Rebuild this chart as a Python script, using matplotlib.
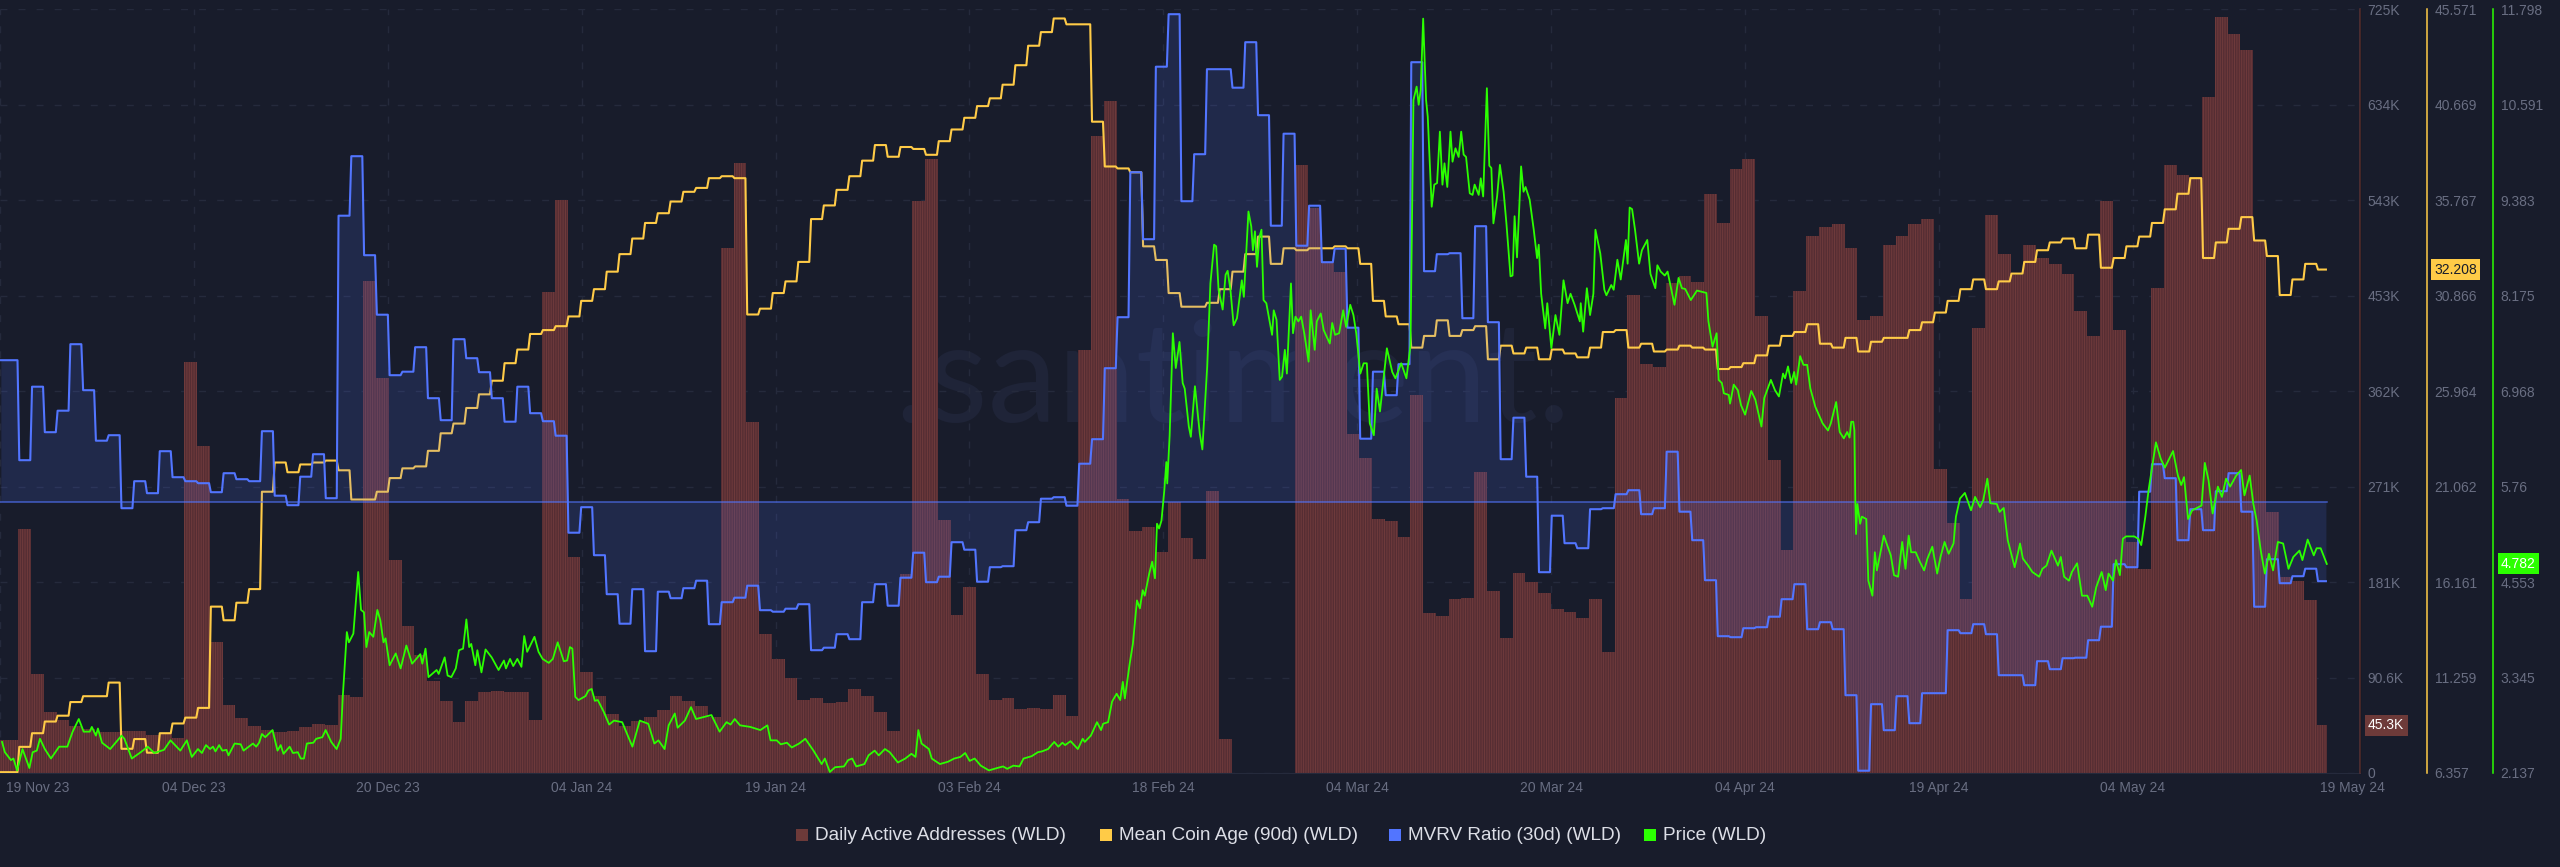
import numpy as np
import matplotlib
matplotlib.use("Agg")
import matplotlib.pyplot as plt
from matplotlib.transforms import ScaledTranslation

# daily active addresses, thousands
daa = [31.6,232,94,57.6,50.6,45,42,39,38.6,40,40,36,37,33,390,310,124,65,52.5,44.6,41,39,39.5,43.6,46.8,46,74,72,467,375,
       202,140,112,87,68,48,68,76.5,78,77,77,50,457,544,205,96,73,56,45,49,53,60,73,68,63.6,53,498,579,333,132,
       108,90,69,71.5,66.7,67,80,73,57.6,40,188.5,543,583,240,150,177,94,69,71.5,61,61.7,61,74,54,402,605,638,260,230,234,
       210,257,223,203,268,32.6,0,0,0,0,0,577,536,484,476,322,299,241,239,224,359,152,149,165,166,286,173,128,190,181,
       171,156,153,147,165,114.5,356,453.6,388,385,465,472,466,550,522,573,583,434,297,212,458,510,518,521,498,430,434,501,510,521,
       526,289,237,165,422,529.5,493,473,501,489,483,474,439,415,543,421,219,194,460,577.5,568,566,642,718,702,686,506,248,186,182,164,45.3]

# mean coin age (90d)
coin_age = [6.4,7.7,8.4,9.0,9.3,10.0,10.3,10.3,11.0,7.6,8.1,7.4,8.4,8.9,9.2,9.7,14.9,14.2,15.1,15.8,20.8,22.3,21.8,22.2,22.3,22.4,21.9,20.4,20.4,20.8,
            21.5,22.0,22.1,22.9,23.8,24.3,25.1,25.8,26.5,27.4,28.1,28.9,29.1,29.3,29.8,30.6,31.2,32.1,33.0,33.8,34.6,35.1,35.7,36.2,36.4,36.9,37.0,36.9,29.9,30.2,
            31.0,31.6,32.6,34.8,35.5,36.3,37.0,37.8,38.6,38.0,38.5,38.4,38.1,38.8,39.4,40.0,40.6,41.0,41.7,42.7,43.7,44.4,45.1,44.8,44.8,39.8,37.5,37.4,37.2,33.4,
            32.7,31.0,30.3,30.3,30.5,31.2,32.1,33.0,33.9,32.5,33.3,33.2,33.3,33.3,33.4,33.3,32.5,30.6,29.8,29.4,28.2,28.8,29.6,28.8,29.1,29.3,27.6,28.3,27.9,28.2,
            27.6,28.1,27.9,27.7,28.2,29.0,29.1,28.2,28.4,28.0,28.1,28.3,28.2,28.1,27.1,27.2,27.4,27.8,28.3,28.8,29.0,29.4,28.4,28.2,28.7,28.0,28.5,28.7,28.7,29.1,
            29.5,30.0,30.6,31.2,31.7,31.2,31.6,32.0,32.6,33.2,33.6,33.8,33.3,34.0,32.3,32.8,33.4,33.9,34.6,35.3,36.1,36.9,32.8,33.6,34.3,34.9,33.7,32.9,30.9,31.7,32.5,32.208]

# mvrv ratio (30d), percent
mvrv = [28.3,8.3,23,13.9,18.2,31.5,22.3,12.2,13.3,-1.3,4.1,1.7,10.1,4.9,4.1,3.7,1.9,5.7,4.5,4.1,14.1,1.2,-0.7,5,9.5,0.7,57.2,69.1,49.3,37.4,
        25.3,26,30.9,20.7,16.3,32.5,28.7,25.9,20.7,16,23,17.7,16.1,13.2,-6.2,-1.1,-10.7,-18.5,-24.4,-17.5,-29.9,-18,-19.3,-17.3,-15.8,-24.5,-20.1,-19.2,-16.8,-21.7,
        -22,-21.4,-20.5,-29.7,-29.2,-26.5,-27.5,-20.1,-16.5,-20.8,-15.2,-10.2,-16.1,-15,-8.1,-9.6,-16,-13.1,-12.9,-5.7,-4.1,0.6,0.9,-0.8,7.6,12.5,26.7,36.9,65.9,52.5,
        87,97.5,60.1,69.5,86.5,86.5,82.8,91.9,77.3,55.2,73.6,51.2,59.2,47.9,50.6,34.8,12.6,26,21.3,27.5,87.9,46.1,49.5,49.7,36.7,55.1,35.9,8.5,16.8,5,
        -14.1,-2.8,-8.3,-9.3,-1.5,-1.3,1.5,2.3,-2.5,-1.3,10,-2,-7.7,-15.7,-26.9,-27.1,-25.3,-25.1,-23,-19.5,-16.5,-25.5,-24.1,-25.5,-38.7,-53.8,-40.5,-45.7,-38.9,-44.3,
        -38.3,-38.3,-25.7,-26.3,-24.5,-26.5,-34.7,-34.7,-36.7,-31.9,-33.5,-31.3,-31.2,-27.7,-25,-12.5,-13.1,2,7.5,4.7,-7.7,-1.5,-5.7,2.1,5.7,-2,-21,-11.5,-16.3,-14.9,-13.4,-15.9]

# price, (days since 19 Nov, usd)
price_points = [
    (0.16,2.53),(0.38,2.40),(0.86,2.30),(1.05,2.32),(1.34,2.17),(1.76,2.44),(2.30,2.20),(2.56,2.40),(2.88,2.42),(3.13,2.57),
    (3.51,2.44),(3.99,2.32),(4.63,2.47),(5.27,2.47),(5.69,2.66),(6.17,2.82),(6.55,2.66),(7.03,2.66),(7.19,2.72),(7.51,2.61),
    (7.67,2.70),(7.99,2.52),(8.63,2.44),(9.52,2.61),(9.74,2.57),(10.32,2.32),(11.02,2.40),(11.57,2.47),(12.08,2.39),(12.84,2.43),
    (13.35,2.55),(14.12,2.42),(14.63,2.55),(15.02,2.34),(15.50,2.44),(15.81,2.39),(16.13,2.49),(16.45,2.44),(16.68,2.47),(16.87,2.41),
    (17.16,2.49),(17.41,2.42),(17.73,2.43),(17.89,2.36),(18.37,2.51),(18.85,2.50),(19.07,2.42),(19.81,2.51),(20.06,2.47),(20.29,2.52),
    (20.51,2.63),(20.77,2.59),(21.34,2.68),(21.73,2.42),(21.98,2.49),(22.20,2.38),(22.68,2.47),(22.94,2.39),(23.32,2.40),(23.55,2.32),
    (23.80,2.32),(24.03,2.51),(24.54,2.52),(24.76,2.57),(25.24,2.59),(25.50,2.68),(25.94,2.53),(26.36,2.44),(26.68,2.57),(26.84,3.10),
    (27.16,3.92),(27.32,3.79),(27.67,3.90),(28.05,4.68),(28.27,4.20),(28.50,4.17),(28.69,3.73),(28.91,3.92),(29.23,3.86),(29.55,4.20),
    (29.78,4.07),(30.03,3.79),(30.19,3.84),(30.51,3.50),(30.99,3.65),(31.37,3.46),(31.82,3.75),(32.27,3.52),(32.91,3.64),(33.07,3.52),
    (33.32,3.71),(33.55,3.35),(34.19,3.44),(34.35,3.39),(34.82,3.60),(35.05,3.37),(35.34,3.35),(35.69,3.46),(35.94,3.69),(36.26,3.71),
    (36.52,4.08),(36.74,3.73),(36.90,3.77),(37.22,3.50),(37.38,3.69),(37.70,3.41),(38.02,3.70),(38.50,3.60),(39.04,3.44),(39.46,3.56),
    (39.62,3.46),(39.94,3.58),(40.19,3.49),(40.51,3.58),(40.83,3.48),(41.05,3.87),(41.28,3.67),(41.85,3.86),(42.17,3.67),(42.49,3.58),
    (42.97,3.53),(43.29,3.58),(43.67,3.79),(44.15,3.55),(44.41,3.56),(44.63,3.73),(44.82,3.71),(45.05,3.10),(45.30,3.06),(45.85,3.11),
    (46.07,3.18),(46.33,3.20),(46.58,3.05),(46.81,3.06),(47.28,2.91),(47.70,2.75),(48.08,2.80),(48.72,2.78),(49.52,2.47),(50.10,2.80),
    (50.44,2.78),(50.76,2.76),(51.24,2.51),(51.56,2.55),(52.04,2.44),(52.36,2.74),(52.84,2.89),(53.06,2.71),(53.63,2.80),(54.11,2.97),
    (54.50,2.82),(55.71,2.87),(56.35,2.66),(56.89,2.78),(57.21,2.75),(57.53,2.82),(57.95,2.74),(58.75,2.72),(59.54,2.68),(60.09,2.74),
    (60.34,2.55),(60.82,2.55),(61.14,2.50),(61.62,2.52),(62.00,2.46),(62.58,2.51),(63.06,2.57),(63.70,2.42),(64.34,2.25),(64.59,2.32),
    (64.98,2.15),(65.39,2.21),(66.09,2.22),(66.41,2.30),(66.73,2.32),(67.05,2.22),(67.69,2.25),(68.01,2.36),(68.49,2.42),(68.81,2.36),
    (69.29,2.44),(69.67,2.40),(70.31,2.27),(70.89,2.32),(71.37,2.38),(71.69,2.34),(71.91,2.68),(72.16,2.51),(72.74,2.44),(72.96,2.32),
    (73.60,2.25),(74.24,2.28),(74.72,2.32),(75.20,2.34),(75.58,2.39),(75.93,2.29),(76.32,2.32),(76.80,2.23),(77.44,2.17),(78.08,2.20),
    (78.55,2.22),(78.87,2.19),(79.35,2.23),(79.83,2.22),(80.15,2.32),(80.79,2.35),(81.27,2.40),(81.59,2.41),(82.07,2.44),(82.55,2.53),
    (82.87,2.47),(83.19,2.52),(83.41,2.49),(83.83,2.54),(84.40,2.44),(84.78,2.57),(84.94,2.53),(85.42,2.61),(85.90,2.78),(86.22,2.68),
    (86.38,2.76),(86.77,2.78),(87.08,3.04),(87.44,3.14),(87.72,3.06),(87.92,3.29),(88.08,3.08),(88.46,3.52),(88.71,3.77),(89.03,4.32),
    (89.26,4.22),(89.48,4.45),(89.64,4.38),(89.99,4.66),(90.22,4.81),(90.44,4.60),(90.60,5.29),(90.76,5.23),(90.95,5.33),(91.17,5.71),
    (91.33,6.07),(91.40,5.80),(91.59,6.41),(91.84,7.70),(92.07,7.26),(92.36,7.59),(92.61,7.07),(92.77,7.00),(93.09,6.52),(93.25,6.39),
    (93.57,7.03),(93.95,6.43),(94.15,6.23),(94.53,7.28),(94.78,8.33),(95.07,8.82),(95.23,8.80),(95.42,8.25),(95.74,8.00),(95.97,8.44),
    (96.13,8.49),(96.35,8.25),(96.60,7.80),(96.86,7.89),(97.24,8.37),(97.40,8.16),(97.76,9.24),(97.98,9.05),(98.11,8.75),(98.27,8.99),
    (98.43,8.54),(98.62,8.92),(98.78,9.01),(98.94,8.12),(99.16,8.08),(99.48,7.80),(99.61,7.68),(99.74,7.99),(99.96,7.87),(100.21,7.11),
    (100.39,7.15),(100.61,7.49),(100.77,7.19),(101.09,8.33),(101.25,7.70),(101.44,7.91),(101.67,7.85),(101.89,7.91),(102.15,7.68),(102.47,7.34),
    (102.63,7.99),(102.95,7.49),(103.11,7.85),(103.42,7.95),(103.65,7.74),(104.13,7.57),(104.32,7.83),(104.54,7.68),(104.86,7.70),(105.18,7.99),
    (105.41,7.78),(105.73,8.06),(105.98,7.93),(106.20,7.70),(106.52,7.19),(106.78,7.32),(107.03,7.32),(107.26,6.56),(107.58,6.41),(107.80,7.00),
    (108.06,6.71),(108.60,7.51),(109.02,7.21),(109.27,7.13),(109.72,7.32),(110.13,7.13),(110.45,7.55),(110.68,10.65),(110.93,10.82),(111.09,10.59),
    (111.25,10.78),(111.44,11.68),(111.67,10.65),(111.80,10.44),(112.11,9.30),(112.31,9.58),(112.53,9.60),(112.75,10.25),(112.95,9.58),(113.11,9.85),
    (113.33,9.55),(113.58,10.25),(113.74,9.87),(113.97,10.04),(114.22,9.93),(114.42,10.25),(114.61,9.96),(114.80,9.93),(115.09,9.47),(115.31,9.45),
    (115.47,9.58),(115.79,9.45),(115.95,9.66),(116.14,9.43),(116.43,10.80),(116.62,9.82),(116.78,9.79),(116.94,9.09),(117.23,9.43),(117.45,9.83),
    (117.74,9.49),(117.96,9.09),(118.28,8.42),(118.44,8.43),(118.60,9.18),(118.79,8.66),(119.11,9.81),(119.30,9.49),(119.46,9.55),(119.78,9.39),
    (120.10,9.01),(120.36,8.65),(120.49,8.82),(120.68,8.20),(121.00,7.76),(121.16,8.08),(121.48,7.51),(121.80,7.93),(122.11,7.68),(122.43,8.37),
    (122.75,8.08),(122.98,8.20),(123.30,8.06),(123.71,7.85),(123.78,8.08),(123.97,7.72),(124.26,8.27),(124.51,7.93),(124.77,8.20),(124.93,9.01),
    (125.31,8.71),(125.63,8.25),(125.79,8.18),(126.17,8.31),(126.36,8.25),(126.65,8.63),(126.91,8.38),(127.32,8.88),(127.45,8.58),(127.61,9.29),
    (127.80,9.27),(128.03,9.01),(128.35,8.58),(128.57,8.75),(128.99,8.88),(129.24,8.45),(129.62,8.27),(129.78,8.56),(130.04,8.48),(130.36,8.43),
    (130.58,8.48),(130.80,8.31),(131.12,8.06),(131.44,8.40),(131.70,8.27),(131.96,8.26),(132.40,8.12),(132.88,8.24),(133.62,8.21),(133.78,7.85),
    (134.10,7.53),(134.42,7.70),(134.58,7.11),(134.83,7.07),(134.99,6.94),(135.37,6.92),(135.47,6.81),(135.76,7.05),(136.08,6.98),(136.33,6.79),
    (136.65,6.67),(137.13,6.97),(137.45,6.86),(137.93,6.52),(138.15,6.88),(138.67,7.11),(138.99,6.98),(139.30,6.90),(139.62,7.19),(139.78,7.13),
    (140.01,7.28),(140.26,7.07),(140.49,7.21),(140.65,7.05),(140.96,7.41),(141.22,7.30),(141.51,7.30),(141.76,7.00),(142.15,6.77),(142.72,6.56),
    (143.14,6.47),(143.36,6.56),(143.78,6.83),(144.06,6.45),(144.38,6.37),(144.64,6.45),(144.83,6.38),(144.96,6.58),(145.12,6.58),(145.21,6.47),
    (145.28,5.57),(145.34,5.16),(145.44,5.54),(145.66,5.29),(145.79,5.38),(146.14,5.35),(146.30,4.57),(146.62,4.38),(146.81,4.93),(146.97,4.70),
    (147.51,5.14),(147.77,5.02),(148.06,4.89),(148.31,4.64),(148.63,4.62),(148.95,5.06),(149.21,4.72),(149.46,5.14),(149.65,4.93),(150.01,4.93),
    (150.33,4.81),(150.67,4.70),(150.93,4.85),(151.31,5.00),(151.69,4.66),(151.95,4.87),(152.27,5.06),(152.59,4.91),(152.97,5.04),(153.16,5.38),
    (153.48,5.61),(153.86,5.68),(154.34,5.46),(154.66,5.63),(155.05,5.50),(155.30,5.59),(155.62,5.86),(155.85,5.55),(156.36,5.54),(156.58,5.44),
    (156.90,5.49),(157.22,5.08),(157.76,4.74),(158.18,5.04),(158.40,4.85),(158.82,4.76),(159.14,4.68),(159.68,4.62),(159.93,4.72),(160.25,4.76),
    (160.64,4.95),(161.15,4.76),(161.37,4.87),(161.63,4.62),(162.01,4.57),(162.24,4.68),(162.65,4.79),(163.03,4.38),(163.45,4.38),(163.83,4.24),
    (164.15,4.49),(164.57,4.68),(164.89,4.45),(165.11,4.66),(165.46,4.57),(165.69,4.83),(166.00,4.64),(166.23,5.10),(166.48,5.13),(167.12,5.13),
    (167.44,5.10),(167.67,5.02),(167.99,5.38),(168.24,5.71),(168.82,6.32),(169.20,6.11),(169.52,6.00),(170.16,6.21),(170.54,5.90),(170.80,5.78),
    (171.02,5.88),(171.34,5.35),(171.66,5.46),(172.39,5.52),(172.65,6.06),(172.94,5.84),(173.26,5.42),(173.67,5.76),(173.99,5.63),(174.31,5.86),
    (174.63,5.76),(175.11,5.90),(175.49,5.97),(175.75,5.65),(176.16,5.90),(176.45,5.54),(176.71,5.33),(177.03,4.95),(177.35,4.66),(177.67,4.91),
    (177.99,4.70),(178.37,5.06),(178.78,5.04),(179.20,4.72),(179.58,4.87),(180.06,4.95),(180.29,4.83),(180.70,5.09),(181.18,4.89),(181.40,4.98),
    (181.72,4.98),(182.20,4.782),
]

date_labels = ["19 Nov 23","04 Dec 23","20 Dec 23","04 Jan 24","19 Jan 24","03 Feb 24","18 Feb 24",
               "04 Mar 24","20 Mar 24","04 Apr 24","19 Apr 24","04 May 24","19 May 24"]

daa_ticks = [0,90.625,181.25,271.875,362.5,453.125,543.75,634.375,725]
daa_labels = ["0","90.6K","181K","271K","362K","453K","543K","634K","725K"]
age_ticks = [6.357,11.259,16.161,21.062,25.964,30.866,35.767,40.669,45.571]
price_ticks = [2.137,3.345,4.553,5.76,6.968,8.175,9.383,10.591,11.798]

BG = "#181c2b"
BROWN = "#6d3a39"
YELLOW = "#ffcb47"
BLUE = "#5275ff"
GREEN = "#2bff00"
TICK = "#696e82"
GRID = "#252a3c"
FONT = "Liberation Sans"

plt.rcParams["font.family"] = FONT
plt.rcParams["hatch.linewidth"] = 0.7

W, H = 2560, 867
AX_R, AX_T, AX_B = 2360, 9.3, 773

fig = plt.figure(figsize=(W/100, H/100), dpi=100, facecolor=BG)
ax = fig.add_axes([0, 1-AX_B/H, AX_R/W, (AX_B-AX_T)/H], facecolor=BG)

# day edges of the daily steps, the first and last are cut by the range
n = len(daa)
end_day = 182.2
edges = np.r_[0, 1.44 + np.arange(n)]
edges[-1] = end_day
xmax = 184.8

# every step has a small slanted riser
step_x = np.column_stack([edges[:-1]+0.07, edges[1:]-0.07]).ravel()

ax.stairs(daa, edges, fill=True, facecolor="#552d33", edgecolor="#703b3c", linewidth=0, hatch="|"*7, zorder=2)
ax.set_xlim(0, xmax)
ax.set_ylim(0, 725)
ax.set_yticks(daa_ticks, daa_labels)
xt = np.linspace(0, end_day, len(date_labels))
ax.set_xticks(xt, date_labels)
ax.set_axisbelow(True)
ax.grid(True, color=GRID, lw=1, linestyle=(0, (5, 8)))
ax.get_xgridlines()[-1].set_visible(False)
ax.tick_params(axis="x", length=0, pad=5.5, labelsize=10, labelcolor=TICK)
for s in ["top", "left"]:
    ax.spines[s].set_visible(False)
ax.spines["bottom"].set_color(GRID)

# end labels of the date axis are pushed to the right
xl = ax.get_xticklabels()
xl[0].set_transform(xl[0].get_transform() + ScaledTranslation(38/100, 0, fig.dpi_scale_trans))
xl[-1].set_transform(xl[-1].get_transform() + ScaledTranslation(26/100, 0, fig.dpi_scale_trans))

fig.text(1232/W, 1-422/H, ".santiment.", color="#1f2438", fontsize=101, family="Lato",
         ha="center", va="baseline", zorder=0)
ax.set_zorder(1)
ax.patch.set_alpha(0)

# mean coin age
ax_age = ax.twinx()
ax_age.set_zorder(2)
ax_age.plot(step_x, np.repeat(coin_age, 2), color=YELLOW, lw=1.5, solid_joinstyle="round")
ax_age.set_ylim(6.357, 45.571)
ax_age.set_yticks(age_ticks, ["%.3f" % t for t in age_ticks])

# mvrv, no axis of its own
ax_mvrv = ax.twinx()
ax_mvrv.set_zorder(3)
y_mvrv = np.repeat(mvrv, 2)
ax_mvrv.fill_between(step_x, y_mvrv, 0, color=BLUE, alpha=0.15, lw=0)
ax_mvrv.axhline(0, 0, end_day/xmax, color=BLUE, alpha=0.7, lw=1.1)
ax_mvrv.plot(step_x, y_mvrv, color=BLUE, lw=1.5, solid_joinstyle="round")
ax_mvrv.set_ylim(-54.26, 98.48)
ax_mvrv.set_yticks([])
for s in ax_mvrv.spines.values():
    s.set_visible(False)

# price
ax_price = ax.twinx()
ax_price.set_zorder(4)
pd_, pv_ = zip(*price_points)
ax_price.plot(pd_, pv_, color=GREEN, lw=1.3, solid_joinstyle="round")
ax_price.set_ylim(2.137, 11.798)
ax_price.set_yticks(price_ticks, ["%g" % t for t in price_ticks])

# twinx moves the first axis to the left, so the right side is set only now
ax.yaxis.tick_right()
ax.tick_params(axis="y", length=0, pad=5.5, labelsize=10, labelcolor=TICK)

ax_age.spines["right"].set_position(("outward", 67*0.72))
ax_age.spines["right"].set_color(YELLOW)
ax_price.spines["right"].set_position(("outward", 133*0.72))
ax_price.spines["right"].set_color(GREEN)
for a in [ax_age, ax_price]:
    for s in ["top", "left", "bottom"]:
        a.spines[s].set_visible(False)
    a.spines["right"].set_linewidth(1.1)
    a.tick_params(axis="y", length=0, pad=5.5, labelsize=10, labelcolor=TICK)

# the twins draw their own right spine over the first axis line
ax_mvrv.spines["right"].set_visible(True)
ax_mvrv.spines["right"].set_color("#5a3234")
ax_mvrv.spines["right"].set_linewidth(1.1)

# last value tags
def tag(a, val, text, dx, fc, tc):
    a.annotate(text, xy=(1, val), xycoords=("axes fraction", "data"), xytext=(dx, 0), textcoords="offset pixels",
               ha="left", va="center", fontsize=10, color=tc, annotation_clip=False, zorder=10,
               bbox=dict(boxstyle="square,pad=0.25", fc=fc, ec="none"))

tag(ax_price, daa[-1]/725*(11.798-2.137)+2.137, "45.3K", 8, BROWN, "#ffffff")
tag(ax_age, coin_age[-1], "32.208", 74, YELLOW, BG)
tag(ax_price, pv_[-1], "4.782", 141, GREEN, "#ffffff")

# legend drawn by hand so it sits where the app puts it
legend_names = ["Daily Active Addresses (WLD)", "Mean Coin Age (90d) (WLD)", "MVRV Ratio (30d) (WLD)", "Price (WLD)"]
legend_cols = [BROWN, YELLOW, BLUE, GREEN]
legend_x = [796, 1100, 1389, 1644]
for name, col, lx in zip(legend_names, legend_cols, legend_x):
    fig.patches.append(plt.Rectangle((lx/W, 1-841/H), 12/W, 12/H, transform=fig.transFigure, fc=col, ec="none"))
    fig.text((lx+19)/W, 1-835/H, name, color="#dcdee6", fontsize=13.7, ha="left", va="center")

fig.savefig("out.png", dpi=100, facecolor=BG)
